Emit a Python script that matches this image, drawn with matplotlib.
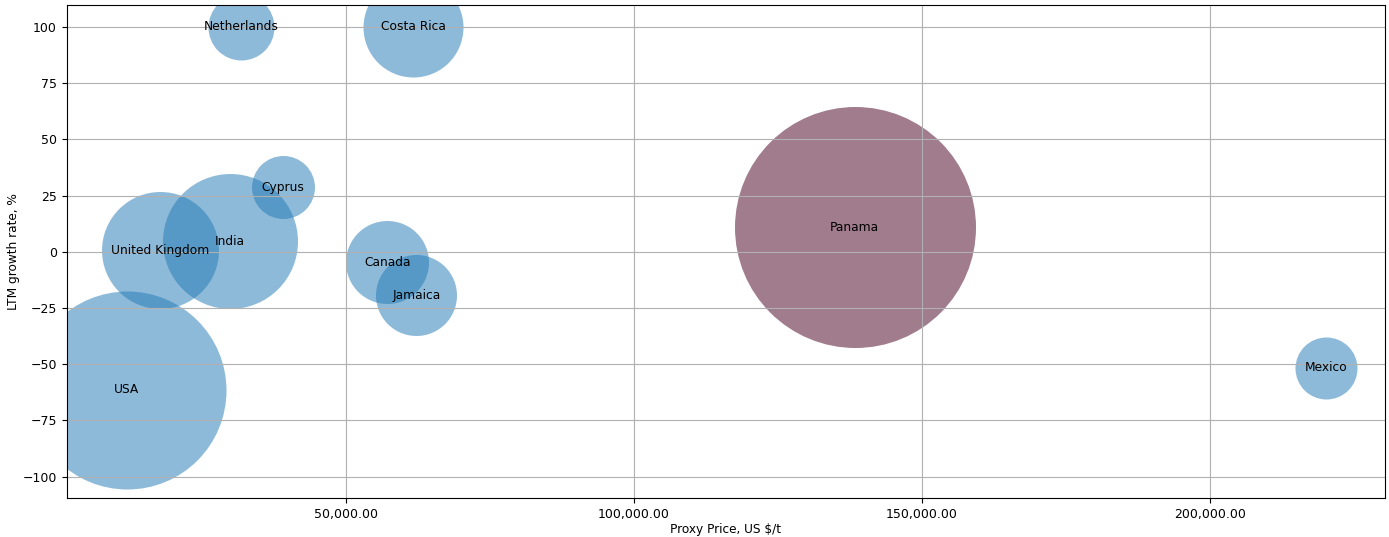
import matplotlib.pyplot as plt
from matplotlib.ticker import StrMethodFormatter

# Countries, proxy price (US $/t), LTM growth (%), bubble volume
countries = ['Netherlands', 'Costa Rica', 'Cyprus', 'United Kingdom', 'India',
             'Canada', 'Jamaica', 'USA', 'Panama', 'Mexico']
proxy_price = [31858, 61719, 39149, 17708, 29948, 57205, 62240, 11979, 138368, 220139]
growth_rate = [100.0, 100.0, 28.7, 0.7, 4.7, -4.7, -19.3, -61.3, 10.9, -51.6]
volume = [1089, 2500, 992, 3422, 4556, 1722, 1640, 9801, 14520, 961]
highlight = 'Panama'

fig, ax = plt.subplots(figsize=(13.89, 5.37), dpi=100)
fig.subplots_adjust(left=0.048, right=0.997, top=0.991, bottom=0.073)

scale = (2 * 0.72) ** 2
for name, x, y, v in zip(countries, proxy_price, growth_rate, volume):
    if name == highlight:
        ax.scatter(x, y, s=v * scale, color='#a07c8c', alpha=1.0, linewidths=0)
    else:
        ax.scatter(x, y, s=v * scale, color='#1f77b4', alpha=0.5, linewidths=0)
    ax.text(x, y, name, ha='center', va='center', fontsize=8.8)

ax.set_xlim(1560, 230400)
ax.set_ylim(-109.4, 109.8)
ax.set_yticks([-100, -75, -50, -25, 0, 25, 50, 75, 100])
ax.xaxis.set_major_formatter(StrMethodFormatter('{x:,.2f}'))
ax.tick_params(labelsize=9)
ax.grid(True)
ax.set_xlabel('Proxy Price, US $/t', fontsize=8.7, labelpad=2)
ax.set_ylabel('LTM growth rate, %', fontsize=8.7, labelpad=2)

plt.savefig('out.png')
